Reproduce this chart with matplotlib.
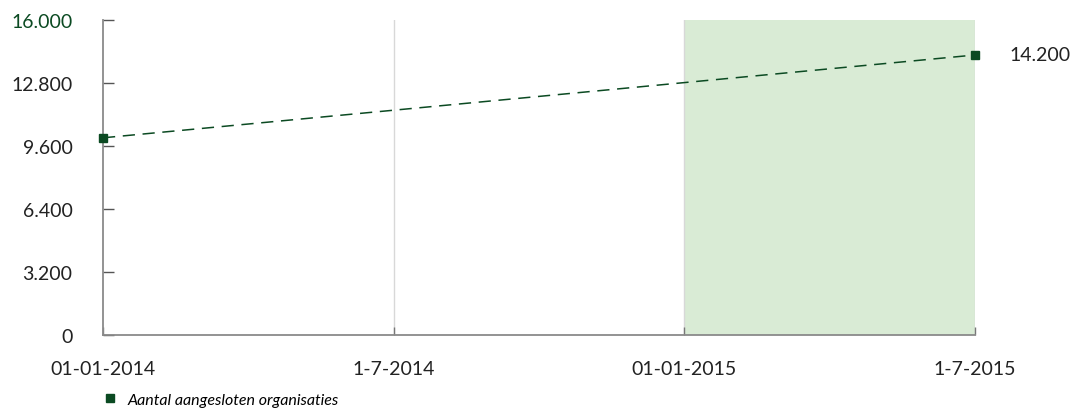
import matplotlib
matplotlib.use("Agg")
import matplotlib.pyplot as plt
from matplotlib.lines import Line2D

# data
dates = ["01-01-2014", "1-7-2014", "01-01-2015", "1-7-2015"]
point_idx = [0, 3]
values = [10000, 14200]
y_ticks = [0, 3200, 6400, 9600, 12800, 16000]
y_labels = ["0", "3.200", "6.400", "9.600", "12.800", "16.000"]
shade_from = 2
shade_to = 3
series_name = "Aantal aangesloten organisaties"

green = "#0b4a22"
plt.rcParams["font.family"] = ["Lato", "DejaVu Sans"]

fig = plt.figure(figsize=(10.79, 4.10), dpi=100)
ax = fig.add_axes([103 / 1079, 74 / 410, 872 / 1079, 315.5 / 410])

x = list(range(len(dates)))
ax.set_xlim(x[0], x[-1])
ax.set_ylim(0, 16000)

# shaded period
ax.axvspan(shade_from, shade_to, color="#d9ebd5", lw=0, zorder=0)
# vertical grid lines
for xi in x[1:]:
    ax.axvline(xi, color="#d8d8d8", lw=1, zorder=1)

ax.plot(point_idx, values, color=green, lw=1.1, ls=(0, (8, 5)),
        marker="s", markersize=6, clip_on=False, zorder=3)
ax.annotate("14.200", (point_idx[-1], values[-1]), xytext=(25, 0),
            textcoords="offset points", va="center", ha="left",
            fontsize=14, color="#222222")

ax.set_yticks(y_ticks)
ax.set_yticklabels(y_labels)
ax.set_xticks(x)
ax.set_xticklabels(dates)

for s in ["top", "right"]:
    ax.spines[s].set_visible(False)
for s in ["left", "bottom"]:
    ax.spines[s].set_color("#8a8a8a")
    ax.spines[s].set_linewidth(1.3)

ax.tick_params(axis="y", direction="in", length=8, width=1, color="#555555",
               labelsize=14, labelcolor="#222222", pad=22)
ax.tick_params(axis="x", direction="in", length=6, width=1, color="#777777",
               labelsize=14, labelcolor="#222222", pad=18)
ax.get_yticklabels()[-1].set_color(green)

# legend
handle = Line2D([], [], color=green, marker="s", ls="none", markersize=5.5)
fig.legend([handle], [series_name], loc="lower left",
           bbox_to_anchor=(88 / 1079, -0.03), frameon=False,
           prop={"style": "italic", "size": 11.5}, handletextpad=0.6,
           handlelength=1)

fig.savefig("out.png", dpi=100)
